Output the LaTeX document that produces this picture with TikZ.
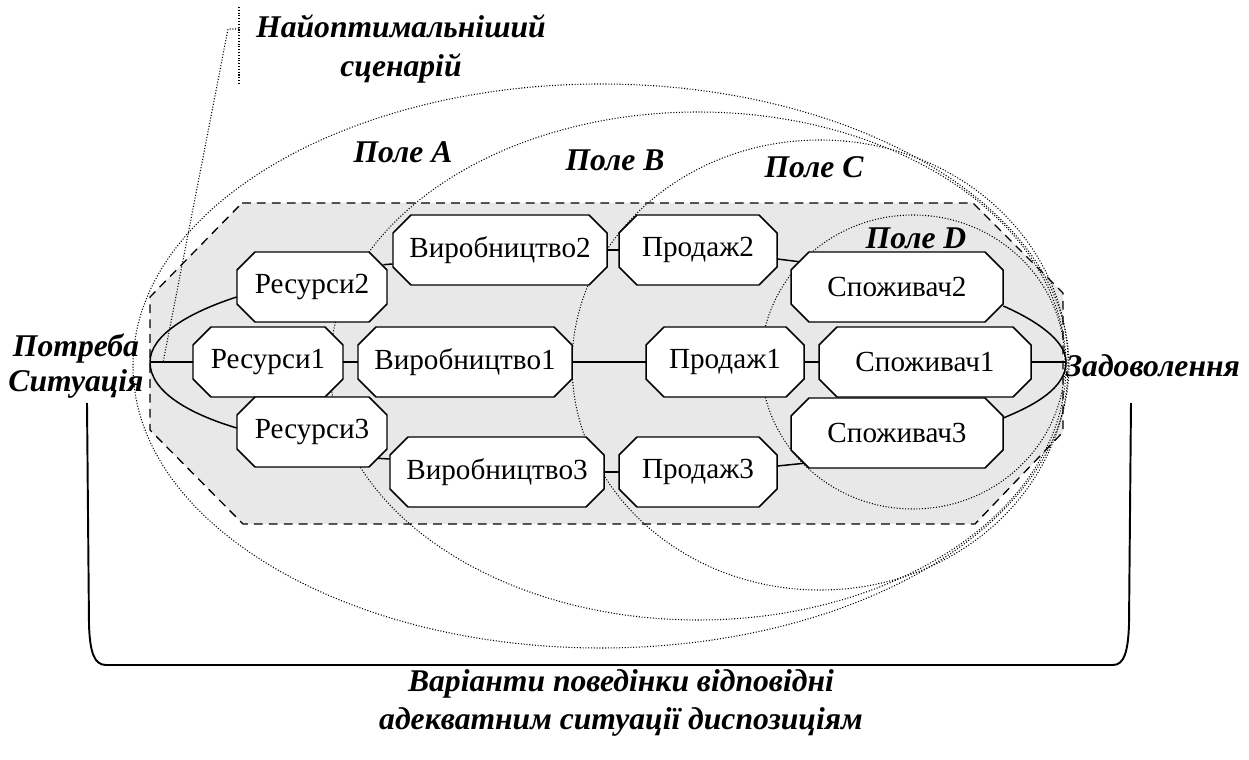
\documentclass[tikz,border=0pt]{standalone}
\usepackage{fontspec}
\setmainfont{Liberation Serif}
\usetikzlibrary{calc}

% octagonal box: name, centre x, centre y, half width, text
\newcommand\octnode[5]{%
  \draw[octline] (#2-#4+18,#3-35) -- (#2+#4-18,#3-35) -- (#2+#4,#3-17) -- (#2+#4,#3+17)
    -- (#2+#4-18,#3+35) -- (#2-#4+18,#3+35) -- (#2-#4,#3+17) -- (#2-#4,#3-17) -- cycle;
  \node[boxtext, minimum width=#4*0.04cm] (#1) at (#2,#3) {#5};
}

\begin{document}
\begin{tikzpicture}[x=0.02cm, y=-0.02cm,
  boxtext/.style={inner sep=0pt, minimum height=1.4cm, font=\fontsize{16.6}{19}\selectfont},
  octline/.style={draw=black, fill=white, line width=0.85pt, line join=miter},
  link/.style={line width=0.85pt},
  field/.style={line width=0.6pt, densely dotted},
  zone/.style={line width=0.75pt, dash pattern=on 5pt off 3.5pt, fill=black!9},
  lab/.style={font=\fontsize{18}{22}\selectfont\bfseries\itshape, align=center, inner sep=0pt},
]
\useasboundingbox (0,0) rectangle (1249,760);

% shaded working zone
\draw[zone] (242,203) -- (973,203) -- (1063,293) -- (1063,432) -- (975,524)
  -- (243,524) -- (150,430) -- (150,297) -- cycle;

% fields A, B, C, D
\draw[field] (601,366) ellipse [x radius=468, y radius=282];
\draw[field] (698,366) ellipse [x radius=368, y radius=254];
\draw[field] (820,365) ellipse [x radius=248, y radius=225];
\draw[field] (913,362) ellipse [x radius=152, y radius=147];

% callout of the optimal scenario
\coordinate (ct) at (239,7);
\coordinate (cb) at (239,84);
\coordinate (cm) at (239,29);
\coordinate (ck) at (228,29);
\coordinate (tip) at (163,363);
\draw[field] (ct) -- (cb);
\draw[field] (cm) -- (ck) -- (tip);

% boxes
\octnode{r2}{312}{287}{75}{Ресурси2}
\octnode{r1}{268}{362}{75}{Ресурси1}
\octnode{r3}{312}{432}{75}{Ресурси3}
\octnode{v2}{500}{250}{107}{Виробництво2}
\octnode{v1}{465}{362}{107}{Виробництво1}
\octnode{v3}{497}{472}{107}{Виробництво3}
\octnode{p2}{698}{250}{79}{Продаж2}
\octnode{p1}{725}{362}{79}{Продаж1}
\octnode{p3}{698}{472}{79}{Продаж3}
\octnode{s2}{897}{287}{106}{Споживач2}
\octnode{s1}{925}{362}{106}{Споживач1}
\octnode{s3}{897}{433}{106}{Споживач3}

% start and end points
\coordinate (need) at (150,362);
\coordinate (sat) at (1066,362);

% connectors
\draw[link] (need) -- (r1.west);
\draw[link] (r1.east) -- (v1.west);
\draw[link] (v1.east) -- (p1.west);
\draw[link] (p1.east) -- (s1.west);
\draw[link] (s1.east) -- (sat);
\draw[link] ($(r2.west)+(0,10)$) .. controls (190,312) and (150,335) .. (need)
  .. controls (150,392) and (190,414) .. ($(r3.west)+(0,-4)$);
\draw[link] ($(s2.east)+(0,19)$) .. controls (1035,320) and (1066,340) .. (sat)
  .. controls (1066,388) and (1035,405) .. ($(s3.east)+(0,-15)$);
\draw[link] ($(r2.north east)+(-4,13)$) -- ($(v2.west)+(0,14)$);
\draw[link] (v2.east) -- (p2.west);
\draw[link] ($(p2.east)+(0,9)$) -- ($(s2.north west)+(8,10)$);
\draw[link] ($(r3.south east)+(-9,-9)$) -- ($(v3.west)+(0,-13)$);
\draw[link] (v3.east) -- (p3.west);
\draw[link] ($(p3.east)+(0,-6)$) -- ($(s3.south west)+(13,-5)$);

% bracket under the fields
\draw[line width=1.1pt] (87,403) -- (89,625) .. controls (90,652) and (94,665) .. (106,665)
  -- (1113,665) .. controls (1124,665) and (1128,652) .. (1129,625) -- (1131,403);

% labels
\node[lab] (best) at (401,49) {Найоптимальніший\\сценарій};
\node[lab] (fa) at (403,152) {Поле А};
\node[lab] (fb) at (615,160) {Поле В};
\node[lab] (fc) at (814,167) {Поле С};
\node[lab] (fd) at (916,238) {Поле D};
\node[lab, font=\fontsize{18}{20}\selectfont\bfseries\itshape] (needl) at (76,366) {Потреба\\Ситуація};
\node[lab] (satl) at (1153,366) {Задоволення};
\node[lab] (var) at (621,703) {Варіанти поведінки відповідні\\адекватним ситуації диспозиціям};
\end{tikzpicture}
\end{document}
